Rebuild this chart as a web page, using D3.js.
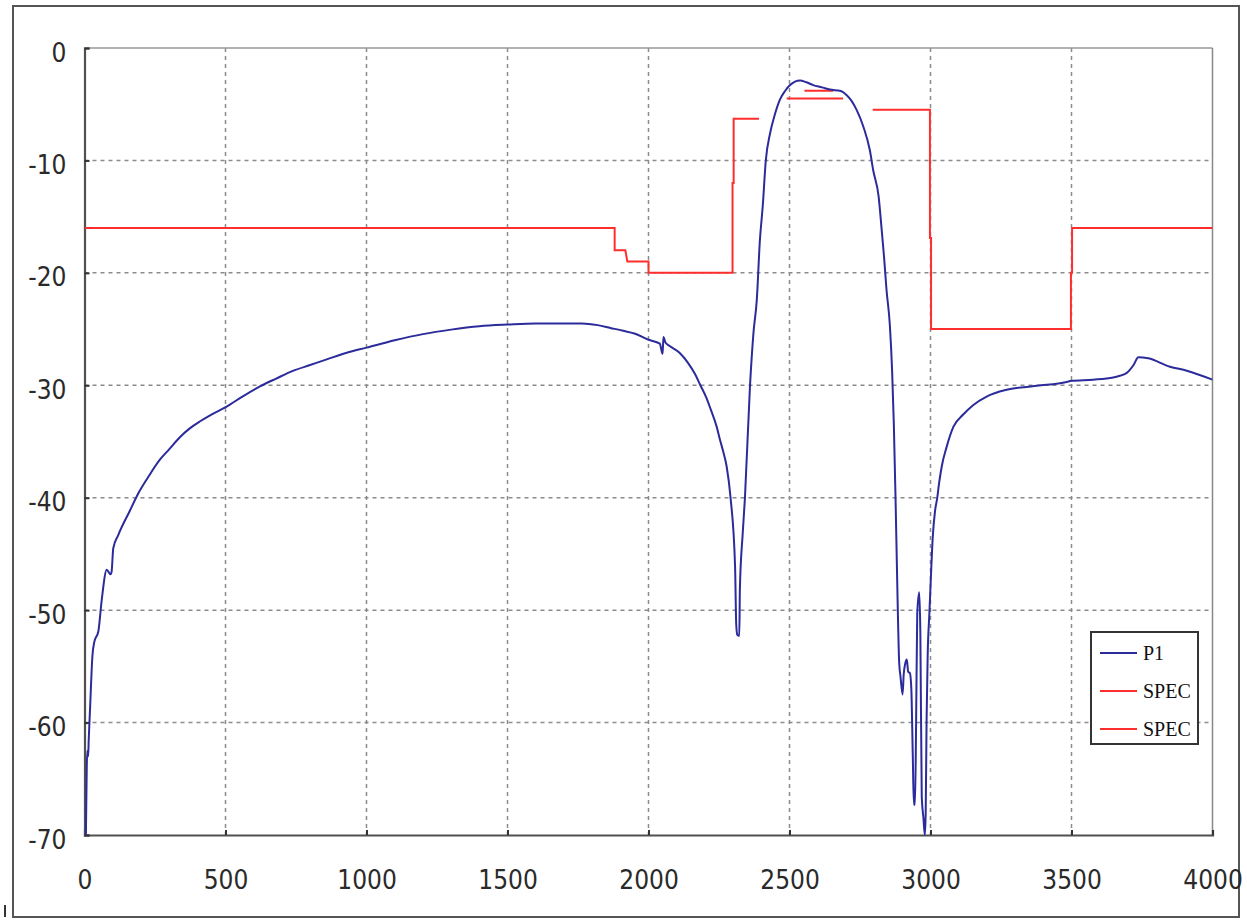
<!DOCTYPE html>
<html>
<head>
<meta charset="utf-8">
<script src="https://cdn.jsdelivr.net/npm/d3@7"></script>
<style>
  body { margin: 0; background: white; }
  svg { display: block; }
  .tick text { font-family: "Liberation Sans Narrow", "DejaVu Sans Condensed", "Liberation Sans", sans-serif; font-size: 26px; fill: #2a2a2a; }
  .legend text { font-family: "Liberation Serif", "DejaVu Serif", serif; font-size: 20px; fill: #111; }
</style>
</head>
<body>
<svg id="chart"></svg>
<script>
// P1 response (freq, dB)
var p1Freq = [5, 8, 10, 13, 15, 20, 28, 35, 49, 61, 79, 92, 96, 102, 120, 160, 191, 230, 268, 300, 339, 370, 410, 450, 504,
  560, 622, 680, 741, 800, 859, 930, 1000, 1100, 1200, 1300, 1400, 1500, 1600, 1700, 1764, 1820, 1865, 1910, 1950,
  2000, 2040, 2050, 2053, 2060, 2075, 2110, 2140, 2165, 2184, 2205, 2220, 2242, 2253, 2266, 2277, 2291,
  2307, 2311, 2315, 2322, 2324, 2334, 2342, 2360, 2372, 2384, 2395, 2405, 2416, 2431, 2446, 2466, 2485, 2502, 2537, 2560, 2584,
  2615, 2643, 2679, 2703, 2720, 2738, 2762, 2785, 2797, 2816, 2827, 2835, 2844, 2856, 2864, 2870, 2876, 2882, 2889, 2894, 2901,
  2905, 2910, 2916, 2921, 2927, 2932, 2937, 2941, 2945, 2949, 2953, 2960, 2964, 2969, 2975, 2980, 2983, 2986, 2990,
  2996, 3001, 3008, 3016, 3024, 3030, 3040, 3057, 3081, 3116, 3152, 3199, 3270, 3377, 3483, 3500, 3577, 3648, 3696,
  3720, 3737, 3772, 3849, 3909, 4000];
var p1Db = [-70, -64, -62.5, -63, -61.5, -58.6, -54.1, -52.8, -51.9, -49.1, -46.4, -46.8, -46.6, -44.5, -43.3, -41.2, -39.6, -38, -36.6, -35.7, -34.6, -33.9, -33.2, -32.6, -31.9,
  -31.0, -30.1, -29.4, -28.7, -28.2, -27.7, -27.1, -26.65, -26.0, -25.45, -25.05, -24.75, -24.6, -24.5, -24.5, -24.5, -24.65, -24.9, -25.15, -25.4,
  -25.95, -26.3, -27.2, -25.7, -26.2, -26.5, -27.1, -28.0, -29.0, -30, -31.1, -32.1, -33.7, -34.8, -36.0, -37.2, -40,
  -46.1, -51.2, -52.2, -52.3, -48.2, -43.2, -40, -30, -25.4, -22.4, -17.1, -14.1, -10, -7.6, -6.1, -4.6, -3.8, -3.3, -2.9, -3.05, -3.3,
  -3.5, -3.7, -3.8, -4.2, -4.7, -5.5, -7.0, -9.1, -10.9, -13.2, -16.2, -18.5, -21.5, -24.7, -28.8, -33.5, -40, -47.5, -54.7, -56, -57.5,
  -55.7, -54.8, -54.4, -55.5, -55.6, -57, -62.7, -67.3, -67.3, -60, -50.3, -48.4, -52, -66.6, -68.5, -70, -68, -60, -54,
  -50.3, -47.3, -43.5, -41.2, -40, -38.8, -37.2, -35.5, -33.7, -32.6, -31.75, -31.0, -30.4, -30.05, -29.7, -29.6, -29.5, -29.3, -28.9,
  -28.2, -27.5, -27.6, -28.35, -28.7, -29.5];

// SPEC mask, null = break in the line
var spec1Freq = [0, 1880, 1880, 1918, 1925, 2000, 2000, 2298, 2298, 2302, 2302, 2392, null,
  2795, 2998, 2998, 3002, 3002, 3498, 3498, 3502, 3502, 4000];
var spec1Db = [-16, -16, -18, -18, -19, -19, -20, -20, -12, -12, -6.3, -6.3, null,
  -5.5, -5.5, -16.9, -16.9, -25, -25, -20, -20, -16, -16];

var spec2Freq = [2490, 2690, null, 2553, 2655];
var spec2Db = [-4.5, -4.5, null, -3.8, -3.8];

var xTicks = [0, 500, 1000, 1500, 2000, 2500, 3000, 3500, 4000];
var yTicks = [0, -10, -20, -30, -40, -50, -60, -70];
var legendNames = ["P1", "SPEC", "SPEC"];

var W = 1247, H = 920;
var margin = {left: 84.5, top: 48, right: 34.5, bottom: 85};
var width = W - margin.left - margin.right,
    height = H - margin.top - margin.bottom;

var colors = {p1: "#2b2b9c", spec: "#ff2e2e", grid: "#8c8c8c", axis: "#505050"};

var svg = d3.select("#chart").attr("width", W).attr("height", H);
svg.append("rect").attr("width", W).attr("height", H).attr("fill", "white");

// outer frame
svg.append("rect")
  .attr("x", 13).attr("y", 6).attr("width", 1226).attr("height", 911)
  .attr("fill", "none").attr("stroke", "#555").attr("stroke-width", 2);
svg.append("line").attr("x1", 5).attr("x2", 5).attr("y1", 905).attr("y2", 917)
  .attr("stroke", "#333").attr("stroke-width", 2);

var x = d3.scaleLinear().domain([0, 4000]).range([0, width]);
var y = d3.scaleLinear().domain([-70, 0]).range([height, 0]);

var g = svg.append("g").attr("transform", "translate(" + margin.left + "," + margin.top + ")");

// grid
g.append("g").selectAll("line").data(xTicks.slice(1, -1)).enter().append("line")
  .attr("x1", d => x(d)).attr("x2", d => x(d)).attr("y1", 0).attr("y2", height)
  .attr("stroke", colors.grid).attr("stroke-width", 1.5).attr("stroke-dasharray", "4,4");
g.append("g").selectAll("line").data(yTicks.slice(1, -1)).enter().append("line")
  .attr("y1", d => y(d)).attr("y2", d => y(d)).attr("x1", 0).attr("x2", width)
  .attr("stroke", colors.grid).attr("stroke-width", 1.5).attr("stroke-dasharray", "4,4");

// plot border: top/right light, left/bottom dark
g.append("line").attr("x1", 0).attr("x2", width).attr("y1", 0).attr("y2", 0)
  .attr("stroke", "#999").attr("stroke-width", 1.5);
g.append("line").attr("x1", width).attr("x2", width).attr("y1", 0).attr("y2", height)
  .attr("stroke", "#888").attr("stroke-width", 1.5);

// axes (plain hyphen for minus, like the original)
var fmt = d => String(d);
var xAxis = g.append("g").attr("transform", "translate(0," + height + ")")
  .call(d3.axisBottom(x).tickValues(xTicks).tickSize(-5).tickPadding(36).tickFormat(fmt));
var yAxis = g.append("g")
  .call(d3.axisLeft(y).tickValues(yTicks).tickSize(-5).tickPadding(18).tickFormat(fmt));
[xAxis, yAxis].forEach(a => {
  a.select(".domain").attr("stroke", colors.axis).attr("stroke-width", 2.2);
  a.selectAll(".tick line").attr("stroke", "#333").attr("stroke-width", 2);
});
yAxis.selectAll(".tick text").attr("dy", "0.5em");

// clip
svg.append("defs").append("clipPath").attr("id", "clip")
  .append("rect").attr("width", width).attr("height", height + 1);

var line = d3.line()
  .defined(d => d[0] !== null)
  .x(d => x(d[0])).y(d => y(d[1]));
var smooth = d3.line()
  .curve(d3.curveMonotoneX)
  .x(d => x(d[0])).y(d => y(d[1]));

var p1 = p1Freq.map((f, i) => [f, p1Db[i]]);
var spec1 = spec1Freq.map((f, i) => [f, spec1Db[i]]);
var spec2 = spec2Freq.map((f, i) => [f, spec2Db[i]]);

var plot = g.append("g").attr("clip-path", "url(#clip)");
plot.append("path").datum(spec1).attr("d", line)
  .attr("fill", "none").attr("stroke", colors.spec).attr("stroke-width", 2);
plot.append("path").datum(spec2).attr("d", line)
  .attr("fill", "none").attr("stroke", colors.spec).attr("stroke-width", 2);
plot.append("path").datum(p1).attr("d", smooth)
  .attr("fill", "none").attr("stroke", colors.p1).attr("stroke-width", 2)
  .attr("stroke-linejoin", "round");

// legend
var legend = svg.append("g").attr("class", "legend");
legend.append("rect").attr("x", 1091).attr("y", 632).attr("width", 107).attr("height", 112)
  .attr("fill", "white").attr("stroke", "#333").attr("stroke-width", 2);
var rows = legend.selectAll("g.row").data(legendNames).enter().append("g")
  .attr("class", "row")
  .attr("transform", (d, i) => "translate(1100," + (653 + i * 38) + ")");
rows.append("line").attr("x1", 0).attr("x2", 37).attr("y1", 0).attr("y2", 0)
  .attr("stroke", (d, i) => i === 0 ? colors.p1 : colors.spec).attr("stroke-width", 2);
rows.append("text").attr("x", 43).attr("y", 0).attr("dy", "0.35em").text(d => d);
</script>
</body>
</html>
